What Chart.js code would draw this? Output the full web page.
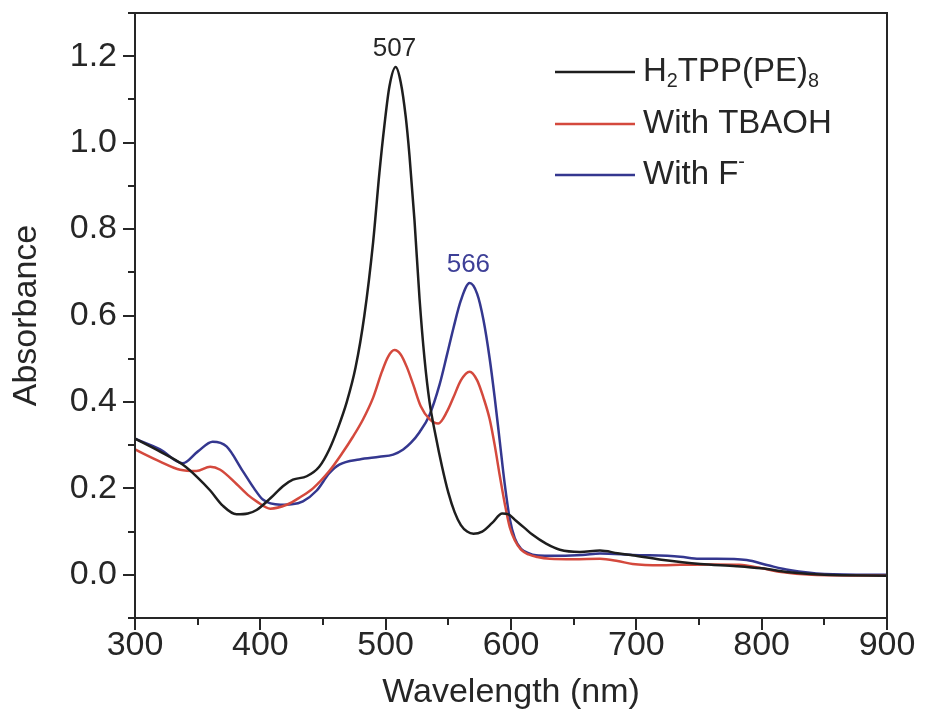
<!DOCTYPE html>
<html>
<head>
<meta charset="utf-8">
<title>UV-vis absorbance</title>
<script src="https://cdn.jsdelivr.net/npm/chart.js@4.4.1/dist/chart.umd.min.js"></script>
<style>
  html, body { margin: 0; padding: 0; background: #fff; }
  #grafica { display: block; }
</style>
</head>
<body>
<canvas id="grafica" width="925" height="717"></canvas>
<script>
// ─── Spectra (wavelength in nm, absorbance) ───────────────────────────────────
const porfWl = [300, 320, 338, 350, 360, 370, 381, 390, 397, 408, 418, 426, 437, 447, 455, 462, 469, 476, 483, 490, 495, 499, 503, 508, 512, 516, 519, 523, 527, 531, 535, 540, 545, 550, 555, 560, 565, 570, 577, 585, 593, 598, 604, 611, 617, 628, 639, 655, 671, 685, 697, 720, 751, 780, 800, 822, 850, 900];
const porfAbs = [0.315, 0.285, 0.255, 0.225, 0.195, 0.16, 0.14, 0.142, 0.15, 0.177, 0.205, 0.22, 0.228, 0.25, 0.29, 0.34, 0.40, 0.48, 0.60, 0.77, 0.93, 1.04, 1.13, 1.175, 1.14, 1.06, 0.97, 0.82, 0.64, 0.50, 0.40, 0.32, 0.25, 0.19, 0.145, 0.115, 0.10, 0.095, 0.10, 0.12, 0.142, 0.14, 0.125, 0.108, 0.093, 0.072, 0.058, 0.053, 0.056, 0.05, 0.045, 0.035, 0.025, 0.02, 0.015, 0.006, 0.0, -0.002];

const tbaohWl = [300, 320, 336, 349, 360, 368, 381, 390, 397, 408, 421, 432, 442, 455, 465, 474, 482, 490, 497, 502, 507, 512, 517, 522, 528, 535, 542, 549, 554, 560, 567, 573, 578, 583, 587, 591, 595, 599, 603, 608, 614, 621, 631, 650, 671, 685, 697, 720, 735, 760, 782, 800, 814, 840, 900];
const tbaohAbs = [0.29, 0.262, 0.243, 0.24, 0.25, 0.243, 0.21, 0.185, 0.17, 0.153, 0.162, 0.18, 0.20, 0.24, 0.28, 0.32, 0.36, 0.41, 0.47, 0.505, 0.52, 0.51, 0.48, 0.44, 0.39, 0.36, 0.35, 0.378, 0.41, 0.45, 0.47, 0.45, 0.41, 0.36, 0.30, 0.23, 0.165, 0.11, 0.08, 0.058, 0.047, 0.041, 0.037, 0.036, 0.037, 0.032, 0.025, 0.022, 0.023, 0.024, 0.023, 0.015, 0.007, 0.0, -0.002];

const fluorWl = [300, 320, 338, 350, 362, 373, 386, 395, 402, 416, 425, 434, 445, 455, 463, 479, 495, 506, 514, 520, 527, 535, 543, 549, 554, 560, 567, 573, 578, 583, 587, 591, 595, 599, 603, 608, 614, 620, 630, 657, 671, 697, 735, 750, 764, 788, 805, 822, 850, 900];
const fluorAbs = [0.315, 0.29, 0.258, 0.285, 0.308, 0.297, 0.24, 0.20, 0.174, 0.162, 0.163, 0.17, 0.195, 0.235, 0.255, 0.267, 0.273, 0.278, 0.29, 0.305, 0.33, 0.37, 0.44, 0.51, 0.57, 0.635, 0.675, 0.65, 0.59, 0.50, 0.41, 0.31, 0.21, 0.13, 0.085, 0.06, 0.05, 0.045, 0.044, 0.046, 0.049, 0.046, 0.042, 0.037, 0.037, 0.034, 0.022, 0.011, 0.002, 0.0];

const SERIES_LABELS = ['H₂TPP(PE)₈', 'With TBAOH', 'With F⁻'];
const SERIES_COLORS = ['#1e1e1e', '#d4493d', '#34378f'];

// Peak labels: wavelength, absorbance at the top, colour
const PEAK_WL = [507, 566];
const PEAK_ABS = [1.175, 0.675];
const PEAK_COLORS = ['#262626', '#3d3f97'];

const X_TICKS = [300, 400, 500, 600, 700, 800, 900];
const Y_TICKS = [0.0, 0.2, 0.4, 0.6, 0.8, 1.0, 1.2];
const X_MINOR = [350, 450, 550, 650, 750, 850];
const Y_MINOR = [-0.1, 0.1, 0.3, 0.5, 0.7, 0.9, 1.1, 1.3];

const FUENTE = "'Liberation Sans', Arial, sans-serif";
const TINTA = '#262626';

function puntos(wl, abs) {
  return wl.map((x, i) => ({ x: x, y: abs[i] }));
}

// ─── Frame + outward ticks (the scales only draw the labels) ─────────────────
const marcoPlugin = {
  id: 'marco',
  afterDatasetsDraw(chart) {
    const { ctx, chartArea: a, scales: { x, y } } = chart;
    ctx.save();
    ctx.strokeStyle = TINTA;
    ctx.lineWidth = 2;
    ctx.strokeRect(a.left, a.top, a.right - a.left, a.bottom - a.top);
    ctx.beginPath();
    X_TICKS.concat(X_MINOR).forEach(v => {
      const px = Math.round(x.getPixelForValue(v));
      const len = X_TICKS.includes(v) ? 12 : 7;
      ctx.moveTo(px, a.bottom);
      ctx.lineTo(px, a.bottom + len);
    });
    Y_TICKS.concat(Y_MINOR).forEach(v => {
      const py = Math.round(y.getPixelForValue(v));
      const len = Y_TICKS.includes(v) ? 12 : 7;
      ctx.moveTo(a.left, py);
      ctx.lineTo(a.left - len, py);
    });
    ctx.stroke();
    ctx.restore();
  }
};

// Draws text where ₀-₉ become subscripts and ⁻ a superscript
function textoRico(ctx, texto, x, y, tam) {
  const SUB = '₀₁₂₃₄₅₆₇₈₉';
  let cx = x;
  for (const ch of texto) {
    let t = ch, size = tam, dy = 0;
    if (SUB.includes(ch)) { t = String(SUB.indexOf(ch)); size = tam * 0.6; dy = tam * 0.3; }
    else if (ch === '⁻') { t = '-'; size = tam * 0.6; dy = -tam * 0.38; }
    ctx.font = `${size}px ${FUENTE}`;
    ctx.fillText(t, cx, y + dy);
    cx += ctx.measureText(t).width;
  }
}

// ─── Legend and peak labels ──────────────────────────────────────────────────
const leyendaPlugin = {
  id: 'leyenda',
  afterDraw(chart) {
    const { ctx, scales: { x, y } } = chart;
    ctx.save();
    const filas = [72, 124, 175];
    chart.data.datasets.forEach((ds, i) => {
      ctx.strokeStyle = ds.borderColor;
      ctx.lineWidth = 2.5;
      ctx.beginPath();
      ctx.moveTo(555, filas[i]);
      ctx.lineTo(635, filas[i]);
      ctx.stroke();
      ctx.fillStyle = TINTA;
      ctx.textBaseline = 'middle';
      ctx.textAlign = 'left';
      textoRico(ctx, ds.label, 643, filas[i], 33);
    });

    ctx.textAlign = 'center';
    ctx.textBaseline = 'bottom';
    ctx.font = `26px ${FUENTE}`;
    PEAK_WL.forEach((wl, i) => {
      ctx.fillStyle = PEAK_COLORS[i];
      ctx.fillText(String(wl), x.getPixelForValue(wl), y.getPixelForValue(PEAK_ABS[i]) - 5);
    });
    ctx.restore();
  }
};

const series = [
  puntos(porfWl, porfAbs),
  puntos(tbaohWl, tbaohAbs),
  puntos(fluorWl, fluorAbs)
];

new Chart(document.getElementById('grafica'), {
  type: 'line',
  data: {
    datasets: series.map((d, i) => ({
      label: SERIES_LABELS[i],
      data: d,
      borderColor: SERIES_COLORS[i],
      borderWidth: 2.5,
      pointRadius: 0,
      fill: false,
      cubicInterpolationMode: 'monotone'
    }))
  },
  options: {
    responsive: false,
    devicePixelRatio: 1,
    animation: false,
    layout: { padding: { left: 0, right: 38, top: 13, bottom: 0 } },
    plugins: {
      legend: { display: false },
      tooltip: { enabled: false }
    },
    scales: {
      x: {
        type: 'linear',
        min: 300,
        max: 900,
        afterBuildTicks: s => { s.ticks = X_TICKS.map(v => ({ value: v })); },
        afterFit: s => { s.height = 99; s.paddingLeft = 0; s.paddingRight = 0; },
        grid: { display: false, drawTicks: false },
        border: { display: false },
        ticks: {
          color: TINTA,
          font: { family: FUENTE, size: 34 },
          padding: 7,
          maxRotation: 0
        },
        title: {
          display: true,
          text: 'Wavelength (nm)',
          color: TINTA,
          font: { family: FUENTE, size: 34 },
          padding: { top: 0, bottom: 4 }
        }
      },
      y: {
        min: -0.1,
        max: 1.3,
        afterBuildTicks: s => { s.ticks = Y_TICKS.map(v => ({ value: v })); },
        afterFit: s => { s.width = 135; s.paddingTop = 0; s.paddingBottom = 0; },
        grid: { display: false, drawTicks: false },
        border: { display: false },
        ticks: {
          color: TINTA,
          font: { family: FUENTE, size: 34 },
          padding: 18,
          callback: v => v.toFixed(1)
        },
        title: {
          display: true,
          text: 'Absorbance',
          color: TINTA,
          font: { family: FUENTE, size: 34 },
          padding: { top: 6, bottom: 0 }
        }
      }
    }
  },
  plugins: [marcoPlugin, leyendaPlugin]
});
</script>
</body>
</html>
